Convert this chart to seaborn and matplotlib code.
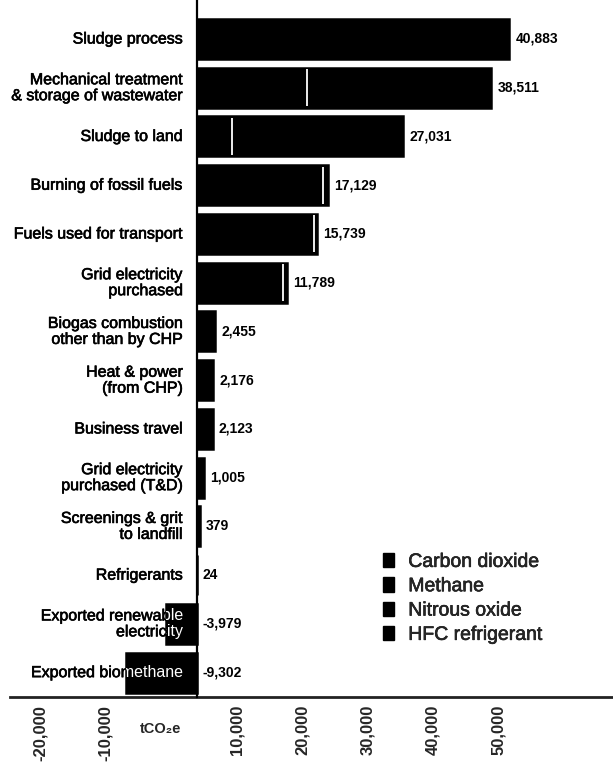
import numpy as np
import pandas as pd
import matplotlib
matplotlib.use("Agg")
import matplotlib.pyplot as plt
import matplotlib.transforms as mtransforms
import matplotlib.patheffects as pe
from matplotlib.patches import Patch
import seaborn as sns

categories = [
    "Sludge process",
    "Mechanical treatment\n& storage of wastewater",
    "Sludge to land",
    "Burning of fossil fuels",
    "Fuels used for transport",
    "Grid electricity\npurchased",
    "Biogas combustion\nother than by CHP",
    "Heat & power\n(from CHP)",
    "Business travel",
    "Grid electricity\npurchased (T&D)",
    "Screenings & grit\nto landfill",
    "Refrigerants",
    "Exported renewable\nelectricity",
    "Exported biomethane",
]
carbon_dioxide = [0, 0, 0, 16550, 15270, 11330, 0, 0, 2123, 1005, 0, 0, -3979, -9302]
methane = [40883, 14400, 4600, 0, 0, 0, 2455, 2176, 0, 0, 379, 0, 0, 0]
nitrous_oxide = [0, 24111, 22431, 579, 469, 459, 0, 0, 0, 0, 0, 0, 0, 0]
hfc_refrigerant = [0, 0, 0, 0, 0, 0, 0, 0, 0, 0, 0, 24, 0, 0]
totals = [40883, 38511, 27031, 17129, 15739, 11789, 2455, 2176, 2123, 1005, 379, 24, -3979, -9302]
series_names = ["Carbon dioxide", "Methane", "Nitrous oxide", "HFC refrigerant"]
tick_values = [-20000, -10000, 10000, 20000, 30000, 40000, 50000]
unit_label = "tCO\u2082e"

sns.set_style("white")
plt.rcParams["font.family"] = ["Liberation Sans", "DejaVu Sans"]

df = pd.DataFrame({
    "category": categories,
    "co2": carbon_dioxide,
    "ch4": methane,
    "n2o": nitrous_oxide,
    "hfc": hfc_refrigerant,
})
df["c1"] = df["co2"]
df["c2"] = df["c1"] + df["ch4"]
df["c3"] = df["c2"] + df["n2o"]
df["c4"] = df["c3"] + df["hfc"]

fig = plt.figure(figsize=(6.13, 7.71), dpi=100)
ax = fig.add_axes([10 / 613, 74 / 771, 603 / 613, 697 / 771])

bar_w = 0.82
layers = ["c4", "c3", "c2", "c1"]
for i, col in enumerate(layers):
    sns.barplot(data=df, x=col, y="category", order=categories, orient="h",
                color="black", saturation=1, width=bar_w, errorbar=None,
                edgecolor="black", linewidth=1.8 if i == 0 else 0, ax=ax)

# white separators between stacked segments
for i, row in df.iterrows():
    tot = row["c4"]
    seen = set()
    for col in ["c1", "c2", "c3"]:
        b = row[col]
        if b != 0 and abs(b) < abs(tot) and b not in seen:
            seen.add(b)
            ax.vlines(b, i - bar_w / 2 + 0.03, i + bar_w / 2 - 0.03,
                      color="white", linewidth=1.3, zorder=3)

ax.set_xlim(-24405, 54418)
ax.set_ylim(13.5, -0.8)
ax.set_xlabel("")
ax.set_ylabel("")
for s in ["top", "right"]:
    ax.spines[s].set_visible(False)
ax.spines["left"].set_position(("data", 0))
ax.spines["left"].set_linewidth(1.6)
ax.spines["left"].set_color("black")
ax.spines["bottom"].set_linewidth(2.0)
ax.spines["bottom"].set_color("#222222")
ax.spines["left"].set_zorder(5)

# category labels
lab_off = mtransforms.ScaledTranslation(-13.7 / 100, 0, fig.dpi_scale_trans)
stroke = [pe.withStroke(linewidth=0.45, foreground="black")]
total_patches = ax.patches[:len(categories)]
for i, cat in enumerate(categories):
    ax.text(0, i, cat, transform=ax.transData + lab_off, ha="right", va="center",
            fontsize=11.5, color="black", linespacing=1.08, zorder=0.5,
            path_effects=stroke)
    if totals[i] < 0:
        t = ax.text(0, i, cat, transform=ax.transData + lab_off, ha="right", va="center",
                    fontsize=11.5, color="white", linespacing=1.08, zorder=4)
        t.set_clip_path(total_patches[i])
        t.set_clip_on(True)

# value labels
val_off = mtransforms.ScaledTranslation(6 / 100, 0, fig.dpi_scale_trans)
for i, v in enumerate(totals):
    ax.text(max(v, 0), i, f"{v:,}", transform=ax.transData + val_off,
            ha="left", va="center", fontsize=10, fontweight="bold", color="black")

# bottom tick labels
ax2 = ax.twiny()
ax2.set_xlim(-24580, 67480)
ax2.xaxis.set_ticks_position("bottom")
ax2.xaxis.set_label_position("bottom")
for s in ax2.spines.values():
    s.set_visible(False)
ax2.set_xticks(tick_values)
ax2.set_xticklabels([f"{v:,}" for v in tick_values], rotation=90,
                    fontsize=12, fontweight="bold")
ax2.tick_params(axis="x", length=0, pad=5.5)
ax2.tick_params(axis="y", left=False, right=False, labelleft=False, labelright=False)
ax.tick_params(axis="both", left=False, bottom=False, top=False, right=False,
               labelleft=False, labelbottom=False, length=0)
ax.text(0.25, -0.046, unit_label, transform=ax.transAxes, ha="center", va="center",
        fontsize=10.5, fontweight="bold")

handles = [Patch(facecolor="black", edgecolor="black", label=n) for n in series_names]
leg = ax.legend(handles=handles, loc="upper left",
                bbox_to_anchor=(383 / 613, 1 - 553 / 771), bbox_transform=fig.transFigure,
                frameon=False, borderpad=0, borderaxespad=0, handlelength=0.55,
                handleheight=0.75, handletextpad=0.75, labelspacing=0.33, fontsize=14)
for txt in leg.get_texts():
    txt.set_path_effects([pe.withStroke(linewidth=0.4, foreground="black")])

fig.savefig("out.png", dpi=100)
